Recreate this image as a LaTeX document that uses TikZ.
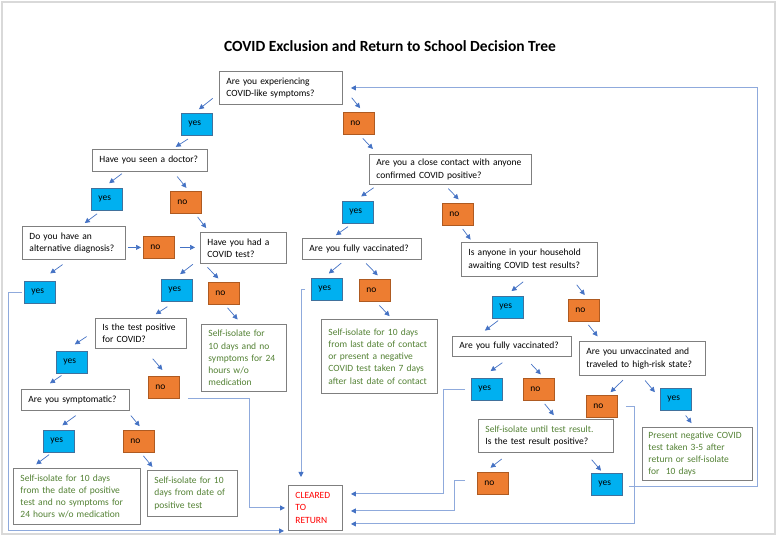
\documentclass[tikz,border=0pt]{standalone}
\usepackage{fontspec}
\setmainfont{Carlito}
\usetikzlibrary{arrows.meta}

\definecolor{boxgrey}{HTML}{7F7F7F}
\definecolor{yesfill}{HTML}{00B0F0}
\definecolor{yesedge}{HTML}{41719C}
\definecolor{nofill}{HTML}{ED7D31}
\definecolor{noedge}{HTML}{AE5A21}
\definecolor{isogreen}{HTML}{548235}
\definecolor{linkblue}{HTML}{4472C4}
\definecolor{backblue}{HTML}{8FAADC}
\definecolor{framegrey}{HTML}{D9D9D9}
\newcommand\boxfont{\fontsize{9.5pt}{12.2pt}\selectfont\hyphenpenalty=10000\exhyphenpenalty=10000}

\begin{document}
\begin{tikzpicture}[x=1pt,y=-1pt,
	qbox/.style={draw=boxgrey,line width=0.9pt,fill=white,anchor=north west,align=left,inner xsep=7pt,inner ysep=1pt,font=\boxfont},
	yesbox/.style={draw=yesedge,fill=yesfill,line width=0.8pt,anchor=north west,minimum width=31pt,minimum height=22pt,text width=17pt,align=left,inner xsep=7pt,inner ysep=0pt,font=\boxfont},
	nobox/.style={yesbox,draw=noedge,fill=nofill},
	arw/.style 2 args={draw=linkblue,line width=0.7pt,-{Triangle[length=5pt,width=5pt]},shorten <=#1pt,shorten >=#2pt},
	back/.style={draw=backblue,line width=0.9pt,-{Triangle[length=5pt,width=5pt,color=linkblue]}}]
	\useasboundingbox (0,0) rectangle (780,537);
	\draw[framegrey,line width=2.5pt] (2,2) rectangle (775,534);
	\node[font=\bfseries\fontsize{15.5pt}{18pt}\selectfont] (title) at (390,46.5) {COVID Exclusion and Return to School Decision Tree};

	% questions and advice
	\node[qbox,text width=109pt,minimum height=33pt] (q1) at (219,71) {Are you experiencing\\COVID-like symptoms?};
	\node[qbox,text width=101pt,minimum height=22pt] (doctor) at (92,149) {Have you seen a doctor?};
	\node[qbox,text width=148pt,minimum height=30pt] (close) at (369,154) {Are you a close contact with anyone\\confirmed COVID positive?};
	\node[qbox,text width=89pt,minimum height=33pt] (altdiag) at (22,226) {Do you have an\\alternative diagnosis?};
	\node[qbox,text width=72pt,minimum height=31pt] (covidtest) at (200,232) {Have you had a\\COVID test?};
	\node[qbox,text width=105pt,minimum height=21pt] (vacc1) at (302,238) {Are you fully vaccinated?};
	\node[qbox,text width=122pt,minimum height=34pt] (household) at (461,242) {Is anyone in your household\\awaiting COVID test results?};
	\node[qbox,text width=77pt,minimum height=30pt] (testpos) at (95,318) {Is the test positive\\for COVID?};
	\node[qbox,text width=71pt,minimum height=67pt,text=isogreen] (selfiso1) at (201,324) {Self-isolate for\\10 days and no\\symptoms for 24\\hours w/o\\medication};
	\node[qbox,text width=102pt,minimum height=74pt,text=isogreen] (selfiso4) at (321,319) {Self-isolate for 10 days\\from last date of contact\\or present a negative\\COVID test taken 7 days\\after last date of contact};
	\node[qbox,text width=105pt,minimum height=20pt] (vacc2) at (452,336) {Are you fully vaccinated?};
	\node[qbox,text width=112pt,minimum height=34pt] (unvacc) at (579,341) {Are you unvaccinated and\\traveled to high-risk state?};
	\node[qbox,text width=94pt,minimum height=21pt] (symp) at (21,389) {Are you symptomatic?};
	\node[qbox,text width=121pt,minimum height=33pt] (selfiso5) at (478,419) {\textcolor{isogreen}{Self-isolate until test result.}\\Is the test result positive?};
	\node[qbox,text width=98pt,inner xsep=6pt,minimum height=53pt,text=isogreen] (present) at (642,427) {Present negative COVID\\test taken 3-5 after\\return or self-isolate\\for~ 10 days};
	\node[qbox,text width=113pt,minimum height=56pt,text=isogreen] (selfiso2) at (13,468) {Self-isolate for 10 days\\from the date of positive\\test and no symptoms for\\24 hours w/o medication};
	\node[qbox,text width=76pt,minimum height=46pt,text=isogreen] (selfiso3) at (147,470) {Self-isolate for 10\\days from date of\\positive test};
	\node[qbox,text width=40pt,minimum height=45pt,text=red] (cleared) at (288,485) {CLEARED\\TO\\RETURN};

	% answers
	\foreach \n/\x/\y in {yes1/181/113,yesD/91/188,yesC/342/201,yesAlt/24/281,yesT/161/279,yesV1/311/278,
		yesH/492/296,yesP/56/351,yesV2/471/378,yesU/660/388,yesS/43/430,yesR/591/473}
		\node[yesbox] (\n) at (\x,\y) {yes};
	\foreach \n/\x/\y in {noQ1/343/112,noD/170/191,noC/442/203,noAlt/143/236,noT/208/282,noV1/359/279,
		noH/568/299,noP/148/376,noV2/523/378,noU/586/395,noS/123/430,noR/477/472}
		\node[nobox] (\n) at (\x,\y) {no};

	% short arrows
	\foreach \a/\b/\s/\e in {q1.185/yes1.103/8/6,q1.1/noQ1.69/14/5,yes1.251/doctor.27/6/4,noQ1.272/close.168/5/7,
		doctor.204/yesD.110/3/8,doctor.334/noD.75/6/4,close.192/yesC.106/5/8,close.250/noC.70/5/5,
		yesD.243/altdiag.68/5/5,noD.309/covidtest.155/4/5,yesC.243/vacc1.160/5/5,noC.282/household.163/4/3,
		altdiag.254/yesAlt.91/8/13,covidtest.194/yesT.105/9/8,covidtest.202/noT.100/5/5,vacc1.213/yesV1.107/5/7,
		vacc1.274/noV1.61/5/5,household.270/yesH.103/8/8,household.337/noH.71/10/5,yesT.260/testpos.60/9/7,
		noT.275/selfiso1.94/4/6,noV1.275/selfiso4.71/5/4,yesH.237/vacc2.163/3/9,noH.280/unvacc.157/4/6,
		testpos.177/yesP.122/10/12,testpos.282/noP.72/13/8,vacc2.262/yesV2.118/10/12,vacc2.320/noV2.65/10/5,
		unvacc.229/noU.63/6/4,unvacc.266/yesU.176/6/8,yesP.235/symp.162/3/10,noV2.286/selfiso5.57/4/5,
		yesU.298/present.96/6/5,symp.302/yesS.105/8/8,symp.348/noS.71/6/5,yesS.237/selfiso2.148/3/6,
		noS.280/selfiso3.148/4/4,selfiso5.205/noR.125/10/7,selfiso5.337/yesR.109/9/3}
		\draw[arw={\s}{\e}] (\a) -- (\b);
	\draw[arw={2}{2}] (noAlt.west -| altdiag.east) -- (noAlt.west);
	\draw[arw={5}{5}] (noAlt.east) -- (noAlt.east -| covidtest.west);

	% back to school / back to start
	\draw[back,shorten <=2pt,shorten >=4pt] (yesAlt.west) -- ++(-16,0) |- (cleared.south west);
	\draw[back,shorten >=3pt] ([xshift=8pt]noP.south east) -- ++(62,0) |- (cleared.west);
	\draw[back,shorten >=8pt] ([xshift=-6pt]yesV1.west) -| ([xshift=13pt]cleared.north west);
	\draw[back,shorten >=8pt] ([xshift=-6pt]yesV2.west) -- ++(-22,0) |- ([yshift=14pt]cleared.east);
	\draw[back,shorten >=8pt] ([xshift=-12pt,yshift=3pt]noR.west) -- ++(-11,0) |- ([yshift=-3pt]cleared.east);
	\draw[back,shorten >=8pt] ([xshift=8pt]noU.east) -- ++(9,0) |- ([yshift=-16pt]cleared.east);
	\draw[back,shorten >=8pt] ([xshift=6pt,yshift=-2pt]yesR.east) -- ++(129,0) |- (q1.east);
\end{tikzpicture}
\end{document}
